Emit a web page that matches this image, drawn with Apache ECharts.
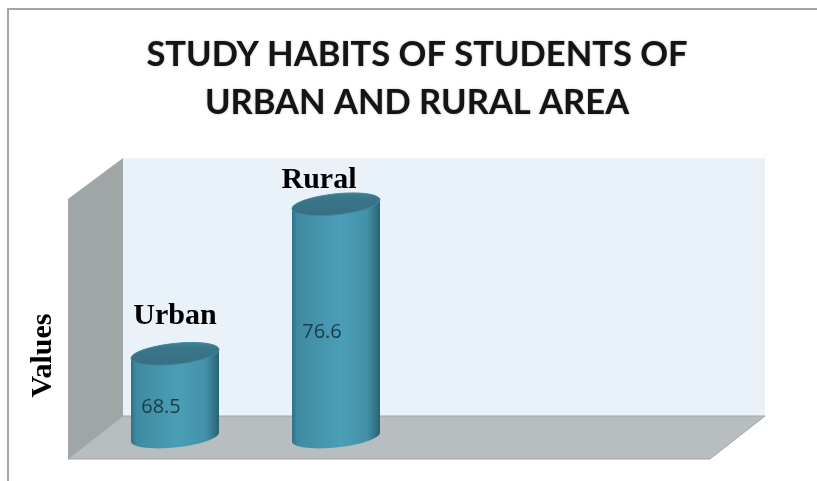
<!DOCTYPE html>
<html>
<head>
<meta charset="utf-8">
<style>html,body{margin:0;padding:0;background:#fff}#c{width:817px;height:481px}</style>
<script src="https://cdn.jsdelivr.net/npm/echarts@6/dist/echarts.min.js"></script>
</head>
<body>
<div id="c"></div>
<script>
var titleText = 'STUDY HABITS OF STUDENTS OF\nURBAN AND RURAL AREA';
var axisTitle = 'Values';
var categories = ['Urban', 'Rural'];
var values = [68.5, 76.6];

var RX = 44, RY = 10.5, TILT = 0.1;
var nameShift = [[0, -38], [-17, -24]];

function rim(cx, cy, from, to) {
  var pts = [], n = 40;
  for (var i = 0; i <= n; i++) {
    var t = from + (to - from) * i / n;
    var dx = RX * Math.cos(t);
    pts.push([cx + dx, cy + RY * Math.sin(t) - TILT * dx]);
  }
  return pts;
}
function sideFill() {
  return new echarts.graphic.LinearGradient(0, 0, 1, 0, [
    {offset: 0, color: '#2f7186'},
    {offset: 0.06, color: '#3f8aa1'},
    {offset: 0.55, color: '#4b9eb7'},
    {offset: 0.85, color: '#4391a9'},
    {offset: 0.96, color: '#2f6f83'},
    {offset: 1, color: '#2a6173'}
  ]);
}
function capFill() {
  return new echarts.graphic.LinearGradient(0, 0, 0, 1, [
    {offset: 0, color: '#3f8195'},
    {offset: 0.25, color: '#39758a'},
    {offset: 1, color: '#386f82'}
  ]);
}

var chart = echarts.init(document.getElementById('c'), null, {renderer: 'canvas'});
chart.setOption({
  animation: false,
  backgroundColor: '#fff',
  title: {
    text: titleText,
    left: 412,
    top: 26,
    textAlign: 'center',
    textStyle: {
      fontFamily: 'Lato', fontWeight: 'bold', fontSize: 34.5, lineHeight: 48, color: '#141414',
      textShadowColor: 'rgba(0,0,0,0.35)', textShadowBlur: 2
    }
  },
  grid: {left: 94.5, width: 322, top: 160, height: 277},
  xAxis: {type: 'category', data: categories, show: false},
  yAxis: {
    type: 'value', min: 64, max: 79,
    name: axisTitle, nameLocation: 'middle', nameRotate: 90, nameGap: 36,
    nameTextStyle: {
      fontFamily: 'Liberation Serif', fontWeight: 'bold', fontSize: 30, color: '#000',
      padding: [0, 114, 0, 0]
    },
    axisLine: {show: false}, axisTick: {show: false}, axisLabel: {show: false}, splitLine: {show: false}
  },
  graphic: {elements: [
    {type: 'polyline', silent: true, z: 0, shape: {points: [[8, 481], [8, 9], [817, 9]]},
      style: {fill: 'none', stroke: '#a6a6a6', lineWidth: 2}},
    {type: 'rect', silent: true, z: 0, shape: {x: 123, y: 158, width: 642, height: 258},
      style: {fill: '#eaf2f9'}},
    {type: 'polygon', silent: true, z: 0, shape: {points: [[68, 199], [123, 158], [123, 416], [68, 459]]},
      style: {fill: '#a0a5a8'}},
    {type: 'polygon', silent: true, z: 0, shape: {points: [[123, 416], [765, 416], [710, 459], [68, 459]]},
      style: {fill: '#b8bdc0', stroke: '#a0a5a8', lineWidth: 1}}
  ]},
  series: [{
    type: 'custom',
    coordinateSystem: 'cartesian2d',
    data: values.map(function (v, i) { return [i, v]; }),
    encode: {x: 0, y: 1},
    clip: false,
    renderItem: function (params, api) {
      var i = api.value(0), v = api.value(1);
      var top = api.coord([i, v]);
      var base = api.coord([i, 64]);
      var cx = top[0];
      return {
        type: 'group',
        children: [
          {type: 'polygon', shape: {points: rim(cx, top[1], Math.PI, 2 * Math.PI).concat(rim(cx, base[1], 0, Math.PI))},
            style: {fill: sideFill()}},
          {type: 'polygon', shape: {points: rim(cx, top[1], 0, 2 * Math.PI)},
            style: {fill: capFill(), stroke: '#458aa0', lineWidth: 1}},
          {type: 'text', x: cx + nameShift[i][0], y: top[1] + nameShift[i][1],
            style: {text: categories[i], fontFamily: 'Liberation Serif', fontWeight: 'bold', fontSize: 30,
              fill: '#000', align: 'center', verticalAlign: 'middle'}},
          {type: 'text', x: cx - 14, y: (top[1] + base[1]) / 2 + 12,
            style: {text: String(v), fontFamily: 'Open Sans', fontSize: 20,
              fill: '#1c3a48', align: 'center', verticalAlign: 'middle'}}
        ]
      };
    }
  }]
});
</script>
</body>
</html>
